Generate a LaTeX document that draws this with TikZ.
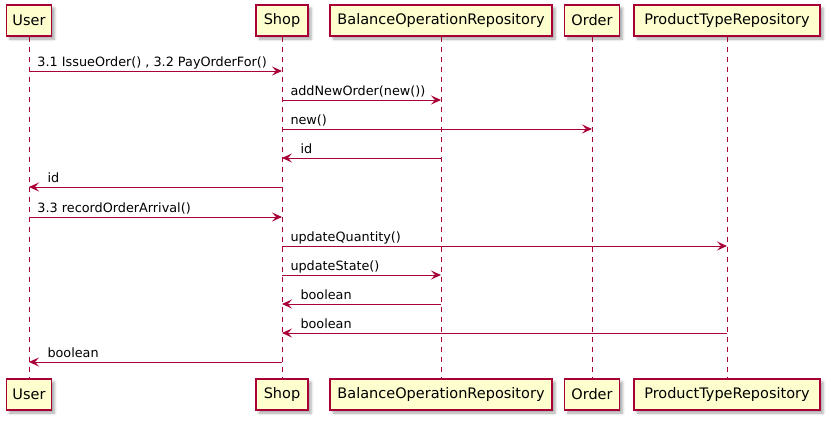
\documentclass[tikz,border=0pt]{standalone}
\usepackage{fontspec}
\setmainfont{DejaVu Sans}
\usetikzlibrary{arrows.meta,shadows.blur}
\definecolor{pfill}{HTML}{FEFECE}
\definecolor{pline}{HTML}{A80036}
\begin{document}
\begin{tikzpicture}[x=1pt,y=-1pt,
  part/.style={draw=pline, fill=pfill, line width=1.4pt, minimum height=31pt, inner sep=0pt,
    font=\fontsize{14.5}{16}\selectfont,
    blur shadow={shadow xshift=3pt, shadow yshift=-3pt, shadow blur radius=2.5pt, shadow opacity=35}},
  life/.style={draw=pline, line width=1pt, dash pattern=on 5pt off 5pt},
  msg/.style={draw=pline, line width=1pt, -{Stealth[length=10pt,width=9pt,inset=4pt]}},
  lbl/.style={font=\fontsize{12.8}{15}\selectfont, inner sep=0pt, anchor=base west, yshift=5pt},
  lr/.style={pos=0, xshift=8pt},
  rl/.style={pos=1, xshift=18pt}]
\useasboundingbox (0,0) rectangle (831,423);
% participants top
\node[part, minimum width=45pt]  (uT) at (29,20.5)  {User};
\node[part, minimum width=52pt]  (sT) at (282,20.5) {Shop};
\node[part, minimum width=222pt] (bT) at (441,20.5) {BalanceOperationRepository};
\node[part, minimum width=55pt]  (oT) at (592,20.5) {Order};
\node[part, minimum width=186pt] (pT) at (727,20.5) {ProductTypeRepository};
% participants bottom
\node[part, minimum width=45pt]  (uB) at (29,394.5)  {User};
\node[part, minimum width=52pt]  (sB) at (282,394.5) {Shop};
\node[part, minimum width=222pt] (bB) at (441,394.5) {BalanceOperationRepository};
\node[part, minimum width=55pt]  (oB) at (592,394.5) {Order};
\node[part, minimum width=186pt] (pB) at (727,394.5) {ProductTypeRepository};
% lifelines
\draw[life] (uT.south) -- (uB.north);
\draw[life] (sT.south) -- (sB.north);
\draw[life] (bT.south) -- (bB.north);
\draw[life] (oT.south) -- (oB.north);
\draw[life] (pT.south) -- (pB.north);
% message rows
\coordinate (r1) at (0,71);
\coordinate (r2) at (0,100);
\coordinate (r3) at (0,129);
\coordinate (r4) at (0,158);
\coordinate (r5) at (0,187);
\coordinate (r6) at (0,217);
\coordinate (r7) at (0,246);
\coordinate (r8) at (0,275);
\coordinate (r9) at (0,304);
\coordinate (r10) at (0,333);
\coordinate (r11) at (0,362);
% messages
\draw[msg] (uT |- r1) -- (sT |- r1) node[lbl, lr] (l1) {3.1 IssueOrder() , 3.2 PayOrderFor()};
\draw[msg] (sT |- r2) -- (bT |- r2) node[lbl, lr] (l2) {addNewOrder(new())};
\draw[msg] (sT |- r3) -- (oT |- r3) node[lbl, lr] (l3) {new()};
\draw[msg] (bT |- r4) -- (sT |- r4) node[lbl, rl] (l4) {id};
\draw[msg] (sT |- r5) -- (uT |- r5) node[lbl, rl] (l5) {id};
\draw[msg] (uT |- r6) -- (sT |- r6) node[lbl, lr] (l6) {3.3 recordOrderArrival()};
\draw[msg] (sT |- r7) -- (pT |- r7) node[lbl, lr] (l7) {updateQuantity()};
\draw[msg] (sT |- r8) -- (bT |- r8) node[lbl, lr] (l8) {updateState()};
\draw[msg] (bT |- r9) -- (sT |- r9) node[lbl, rl] (l9) {boolean};
\draw[msg] (pT |- r10) -- (sT |- r10) node[lbl, rl] (l10) {boolean};
\draw[msg] (sT |- r11) -- (uT |- r11) node[lbl, rl] (l11) {boolean};
\end{tikzpicture}
\end{document}
